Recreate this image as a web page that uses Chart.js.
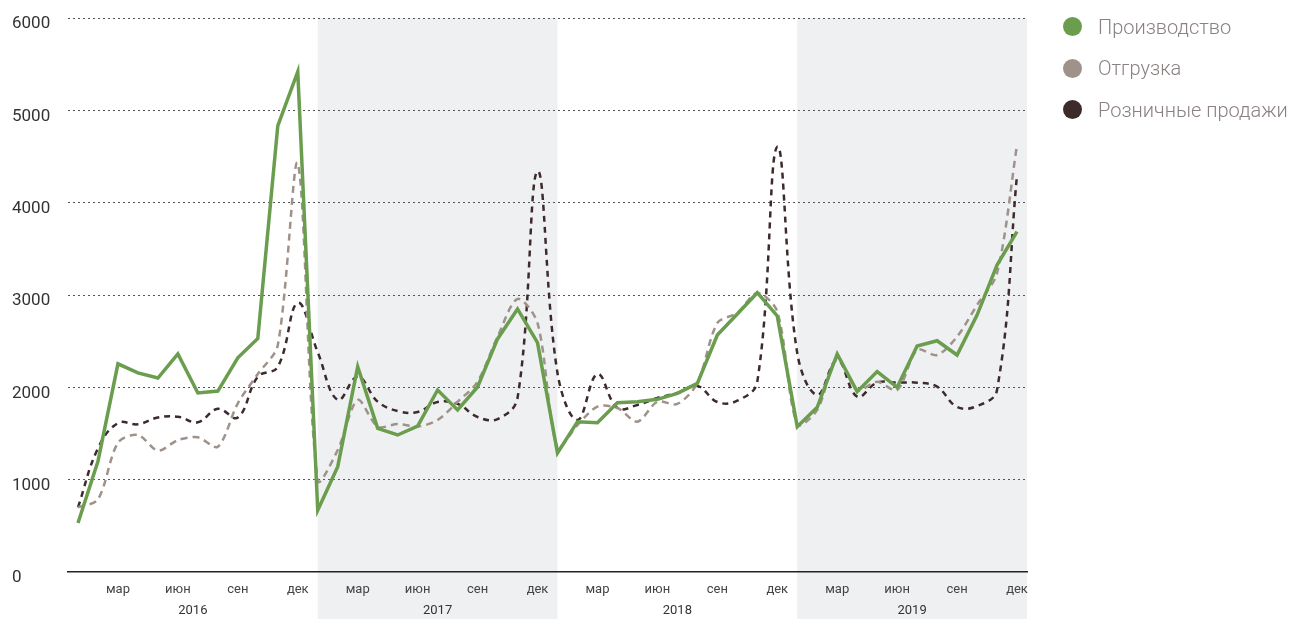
<!DOCTYPE html>
<html>
<head>
<meta charset="utf-8">
<script src="https://cdn.jsdelivr.net/npm/chart.js@4.4.1/dist/chart.umd.min.js"></script>
<style>
  html, body { margin: 0; padding: 0; background: #fff; }
  #wrap { position: relative; width: 1289px; height: 619px; }
  #legend { position: absolute; left: 1063px; top: 6px; font-family: Roboto, sans-serif; font-weight: 300; font-size: 20px; color: #8a8181; }
  #legend div { height: 41.5px; display: flex; align-items: center; white-space: nowrap; }
  #legend span.dot { display: inline-block; width: 19px; height: 19px; border-radius: 50%; margin-right: 16px; }
</style>
</head>
<body>
<div id="wrap">
  <canvas id="chart01" width="1289" height="619"></canvas>
  <div id="legend"></div>
</div>
<script>
// months 2016-01 .. 2019-12
var years = ['2016', '2017', '2018', '2019']
var monthNames = ['янв', 'фев', 'мар', 'апр', 'май', 'июн', 'июл', 'авг', 'сен', 'окт', 'ноя', 'дек']
var shownMonths = ['мар', 'июн', 'сен', 'дек']
var shadedYears = ['2017', '2019']

var seriesNames = ['Производство', 'Отгрузка', 'Розничные продажи']
var seriesColors = ['#6b9d4e', '#9e928a', '#3d2b2c']

var production = [
  530, 1200, 2255, 2157, 2101, 2362, 1939, 1960, 2320, 2529, 4832, 5418,
  670, 1141, 2224, 1556, 1484, 1581, 1971, 1755, 2004, 2524, 2849, 2484,
  1289, 1628, 1617, 1834, 1844, 1870, 1935, 2043, 2567, 2794, 3025, 2773,
  1574, 1783, 2361, 1953, 2170, 2000, 2448, 2505, 2350, 2783, 3325, 3686
]
var shipments = [
  700, 787, 1400, 1485, 1314, 1429, 1459, 1357, 1827, 2144, 2456, 4425,
  990, 1321, 1863, 1574, 1603, 1574, 1646, 1844, 2061, 2548, 2957, 2697,
  1350, 1592, 1791, 1776, 1628, 1844, 1820, 2047, 2697, 2805, 3022, 2820,
  1600, 1755, 2318, 1971, 2061, 1971, 2404, 2350, 2549, 2892, 3235, 4625
]
var retail = [
  700, 1340, 1613, 1600, 1673, 1682, 1622, 1767, 1673, 2114, 2221, 2914,
  2380, 1863, 2115, 1845, 1744, 1733, 1841, 1820, 1679, 1657, 1885, 4340,
  2155, 1646, 2144, 1776, 1809, 1885, 1939, 2015, 1841, 1855, 2061, 4606,
  2370, 1917, 2296, 1899, 2051, 2051, 2050, 2007, 1787, 1798, 1971, 4300
]

var labels = []
years.forEach(function (y) {
  monthNames.forEach(function (m) { labels.push(m) })
})

// shaded year bands + year captions under the axis
function yearSpan (chart, i) {
  var x = chart.scales.x
  var area = chart.chartArea
  var x0 = i === 0 ? area.left : x.getPixelForValue(i * 12)
  var x1 = i === years.length - 1 ? area.right : x.getPixelForValue((i + 1) * 12)
  return [x0, x1]
}

var yearBands = {
  id: 'yearBands',
  beforeDraw: function (chart) {
    var ctx = chart.ctx
    var area = chart.chartArea
    ctx.save()
    ctx.fillStyle = '#eff0f2'
    years.forEach(function (y, i) {
      if (shadedYears.indexOf(y) < 0) return
      var s = yearSpan(chart, i)
      ctx.fillRect(s[0], area.top, s[1] - s[0], chart.height - area.top)
    })
    ctx.restore()
  },
  afterDraw: function (chart) {
    var ctx = chart.ctx
    ctx.save()
    ctx.font = '13px Roboto, sans-serif'
    ctx.fillStyle = '#333'
    ctx.textAlign = 'center'
    ctx.textBaseline = 'middle'
    years.forEach(function (y, i) {
      var s = yearSpan(chart, i)
      ctx.fillText(y, (s[0] + s[1]) / 2, 611)
    })
    ctx.restore()
  }
}

var datasets = [
  {
    label: seriesNames[0],
    data: production,
    borderColor: seriesColors[0],
    backgroundColor: seriesColors[0],
    borderWidth: 3.5,
    tension: 0,
    pointRadius: 0
  },
  {
    label: seriesNames[1],
    data: shipments,
    borderColor: seriesColors[1],
    backgroundColor: seriesColors[1],
    borderWidth: 2.5,
    borderDash: [7, 5],
    tension: 0.3,
    pointRadius: 0
  },
  {
    label: seriesNames[2],
    data: retail,
    borderColor: seriesColors[2],
    backgroundColor: seriesColors[2],
    borderWidth: 2.5,
    borderDash: [6, 5],
    tension: 0.4,
    pointRadius: 0
  }
]

var chart = new Chart(document.getElementById('chart01').getContext('2d'), {
  type: 'line',
  data: { labels: labels, datasets: datasets },
  plugins: [yearBands],
  options: {
    responsive: false,
    animation: false,
    layout: { padding: { left: 12, right: 262, top: 18, bottom: 0 } },
    plugins: {
      legend: { display: false },
      tooltip: { enabled: false }
    },
    scales: {
      x: {
        offset: true,
        grid: { display: false, drawTicks: false },
        border: { display: true, color: '#222', width: 1.5 },
        ticks: {
          autoSkip: false,
          maxRotation: 0,
          padding: 10,
          color: '#444',
          font: { family: 'Roboto, sans-serif', size: 13 },
          callback: function (v, i) {
            var m = labels[i]
            return shownMonths.indexOf(m) >= 0 ? m : ''
          }
        },
        afterFit: function (scale) { scale.height = 47 }
      },
      y: {
        min: 0,
        max: 6000,
        ticks: {
          stepSize: 1000,
          crossAlign: 'far',
          labelOffset: 6,
          padding: 14,
          color: '#333',
          font: { family: 'Roboto, sans-serif', size: 17 },
          callback: function (v) { return String(v) }
        },
        grid: {
          drawTicks: false,
          color: function (c) { return c.tick.value === 0 ? 'rgba(0,0,0,0)' : '#555' },
          lineWidth: 1
        },
        border: { display: false, dash: [2, 3] },
        afterFit: function (scale) {
          scale.width = 56
          scale.paddingTop = 0
          scale.paddingBottom = 0
        }
      }
    }
  }
})

// legend
var legendEl = document.getElementById('legend')
seriesNames.forEach(function (name, i) {
  var row = document.createElement('div')
  var dot = document.createElement('span')
  dot.className = 'dot'
  dot.style.background = seriesColors[i]
  row.appendChild(dot)
  row.appendChild(document.createTextNode(name))
  legendEl.appendChild(row)
})
</script>
</body>
</html>
